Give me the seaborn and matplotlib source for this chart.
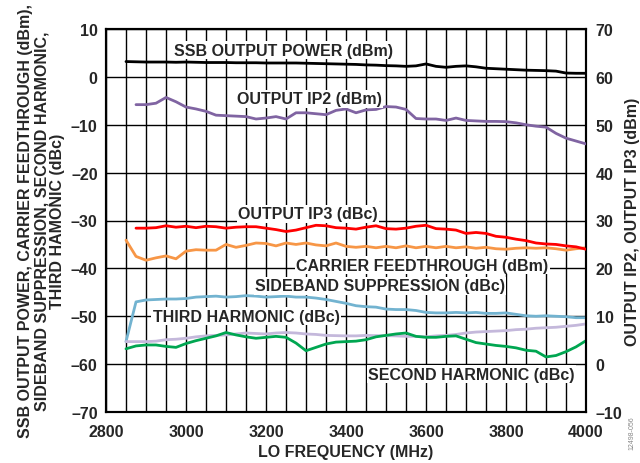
import numpy as np
import pandas as pd
import matplotlib
matplotlib.use("Agg")
import matplotlib.pyplot as plt
import seaborn as sns

# LO frequency grid (MHz), 25 MHz steps
freq = np.arange(2850, 4001, 25)

# left axis series (dBm / dBc)
ssb_power = [3.2, 3.15, 3.1, 3.1, 3.1, 3.05, 3.1, 3.05, 3.0, 3.0, 3.0, 2.95, 2.95, 2.95, 2.9, 2.9,
             2.9, 2.9, 2.85, 2.8, 2.75, 2.7, 2.65, 2.6, 2.5, 2.45, 2.35, 2.3, 2.2, 2.3, 2.7, 2.2,
             2.0, 2.2, 2.3, 2.1, 1.8, 1.7, 1.6, 1.5, 1.4, 1.35, 1.3, 1.2, 0.8, 0.75, 0.75]
carrier_ft = [-34.1, -37.5, -38.3, -37.8, -37.4, -38.0, -36.4, -36.1, -36.2, -36.2, -35.0, -35.6,
              -35.2, -34.7, -34.8, -35.3, -34.7, -35.0, -34.7, -35.1, -35.3, -34.7, -35.4, -35.6,
              -35.4, -35.7, -35.4, -35.7, -35.3, -35.7, -35.4, -35.7, -35.4, -35.7, -35.5, -35.8,
              -35.6, -35.9, -36.0, -35.8, -35.7, -35.8, -35.7, -35.9, -36.2, -35.9, -35.7]
sideband_sup = [-55.3, -47.0, -46.6, -46.5, -46.4, -46.4, -46.3, -46.0, -45.9, -45.8, -46.0, -45.9,
                -45.7, -45.8, -46.0, -45.9, -45.8, -46.0, -46.0, -46.2, -46.5, -46.9, -47.3, -47.8,
                -48.0, -48.1, -48.5, -48.6, -48.6, -48.8, -49.2, -49.3, -49.3, -49.2, -49.3, -49.2,
                -49.4, -49.4, -49.3, -49.6, -49.9, -50.0, -49.9, -50.0, -50.1, -50.3, -50.3]
third_harm = [-55.3, -55.3, -55.3, -55.2, -54.9, -54.8, -54.6, -54.3, -54.1, -54.0, -53.9, -53.7,
              -53.5, -53.6, -53.7, -53.5, -53.4, -53.5, -53.7, -53.8, -54.0, -54.05, -54.1, -54.1,
              -54.0, -54.05, -54.05, -54.1, -54.2, -54.2, -54.3, -54.1, -54.0, -53.8, -53.5, -53.3,
              -53.2, -53.1, -53.0, -52.8, -52.7, -52.5, -52.4, -52.3, -52.1, -51.9, -51.6]
second_harm = [-56.8, -56.2, -56.0, -56.0, -56.3, -56.5, -55.7, -55.1, -54.6, -54.1, -53.4, -53.9,
               -54.3, -54.6, -54.4, -54.2, -54.4, -55.6, -57.2, -56.5, -55.8, -55.4, -55.3, -55.2,
               -54.9, -54.3, -54.0, -53.7, -53.5, -54.2, -54.4, -54.4, -54.2, -54.1, -54.8, -55.5,
               -55.8, -56.1, -56.3, -56.6, -57.1, -57.3, -58.5, -58.2, -57.4, -56.4, -55.1]

# right axis series (dBm)
ip2 = [np.nan, 54.2, 54.2, 54.5, 55.7, 54.8, 53.7, 53.3, 52.8, 52.0, 51.9, 51.8, 51.7, 51.2, 51.4,
       51.7, 51.2, 52.5, 52.5, 52.3, 52.1, 53.0, 53.3, 52.5, 53.1, 53.2, 53.8, 53.7, 53.2, 51.3,
       51.2, 51.2, 50.9, 51.4, 50.9, 50.8, 50.7, 50.7, 50.65, 50.4, 50.0, 49.7, 49.5, 48.2, 47.2,
       46.6, 46.0]
ip3 = [np.nan, 28.4, 28.4, 28.5, 28.9, 28.6, 28.8, 28.5, 28.8, 28.7, 28.4, 28.6, 28.7, 28.7, 28.4,
       28.1, 27.7, 28.0, 28.5, 29.0, 28.9, 28.5, 28.4, 28.2, 28.6, 28.9, 28.3, 28.2, 28.4, 28.8,
       29.0, 28.3, 28.2, 28.0, 27.3, 27.5, 27.3, 26.7, 26.5, 26.1, 25.8, 25.3, 25.1, 25.0, 24.7,
       24.5, 24.0]

left_series = [
    ("SSB OUTPUT POWER (dBm)", ssb_power, "#000000"),
    ("CARRIER FEEDTHROUGH (dBm)", carrier_ft, "#f79646"),
    ("SIDEBAND SUPPRESSION (dBc)", sideband_sup, "#72b3d0"),
    ("THIRD HARMONIC (dBc)", third_harm, "#c4b8db"),
    ("SECOND HARMONIC (dBc)", second_harm, "#00a651"),
]
right_series = [
    ("OUTPUT IP2 (dBm)", ip2, "#8064a2"),
    ("OUTPUT IP3 (dBc)", ip3, "#ff0000"),
]

# label positions (freq, left-axis value)
labels = [
    ("SSB OUTPUT POWER (dBm)", 3245, 5.6),
    ("OUTPUT IP2 (dBm)", 3309, -4.6),
    ("OUTPUT IP3 (dBc)", 3305, -28.6),
    ("CARRIER FEEDTHROUGH (dBm)", 3591, -39.3),
    ("SIDEBAND SUPPRESSION (dBc)", 3485, -43.6),
    ("THIRD HARMONIC (dBc)", 3150, -50.0),
    ("SECOND HARMONIC (dBc)", 3713, -62.1),
]

FS = 11.5

sns.set_style("white", {"axes.grid": True, "grid.color": "black"})
plt.rcParams['font.family'] = ['Liberation Sans', 'DejaVu Sans']
plt.rcParams['font.weight'] = 'bold'

fig = plt.figure(figsize=(6.4, 4.64), dpi=100)
ax = fig.add_axes([106 / 640, 1 - 413 / 464, 480 / 640, 383 / 464])
ax2 = ax.twinx()

for name, vals, col in left_series:
    df = pd.DataFrame({"freq": freq, "val": vals})
    sns.lineplot(data=df, x="freq", y="val", ax=ax, color=col, linewidth=2, zorder=3)
for name, vals, col in right_series:
    df = pd.DataFrame({"freq": freq, "val": vals})
    sns.lineplot(data=df, x="freq", y="val", ax=ax2, color=col, linewidth=2, zorder=3)

ax.set_xlim(2800, 4000)
ax.set_ylim(-70, 10)
ax2.set_ylim(-10, 70)
ax.set_xticks(np.arange(2800, 4001, 200))
ax.set_xticks(np.arange(2800, 4001, 50), minor=True)
ax.set_yticks(np.arange(-70, 11, 10))
ax2.set_yticks(np.arange(-10, 71, 10))
ax.set_yticklabels([f"{v}".replace("-", "\u2013") for v in range(-70, 11, 10)])
ax2.set_yticklabels([f"{v}".replace("-", "\u2013") for v in range(-10, 71, 10)])

for a in (ax, ax2):
    a.tick_params(which="both", length=0, labelsize=FS)
    for s in a.spines.values():
        s.set_color("black")
        s.set_linewidth(1.5)
    for t in a.get_xticklabels() + a.get_yticklabels():
        t.set_fontweight("bold")
ax.tick_params(axis="x", pad=9)
ax.tick_params(axis="y", pad=6)
ax2.tick_params(axis="y", pad=7)

ax2.grid(False)
ax.grid(True, which="both", axis="x", color="black", linewidth=1.0)
ax.grid(True, which="major", axis="y", color="black", linewidth=1.0)
ax.grid(False, which="minor", axis="y")
ax.set_axisbelow(True)

ax.set_xlabel("LO FREQUENCY (MHz)", fontsize=FS, fontweight="bold", labelpad=3)
ax.set_ylabel("SSB OUTPUT POWER, CARRIER FEEDTHROUGH (dBm),\nSIDEBAND SUPPRESSION, SECOND HARMONIC,\nTHIRD HAMONIC (dBc)",
              fontsize=FS, fontweight="bold", linespacing=1.1, labelpad=4)
ax2.set_ylabel("OUTPUT IP2, OUTPUT IP3 (dBm)", fontsize=FS, fontweight="bold")
ax2.yaxis.set_label_coords(1.082, 0.5)

for txt, fx, fy in labels:
    ax2.text(fx, fy, txt, transform=ax.transData, ha="center", va="center",
             fontsize=FS, fontweight="bold", zorder=5,
             bbox=dict(facecolor="white", edgecolor="none", pad=1.0))

fig.text(0.988, 0.03, "12498-056", rotation=90, fontsize=5, color="#888888",
         fontweight="normal", ha="center", va="bottom")

fig.savefig("out.png", dpi=100)
